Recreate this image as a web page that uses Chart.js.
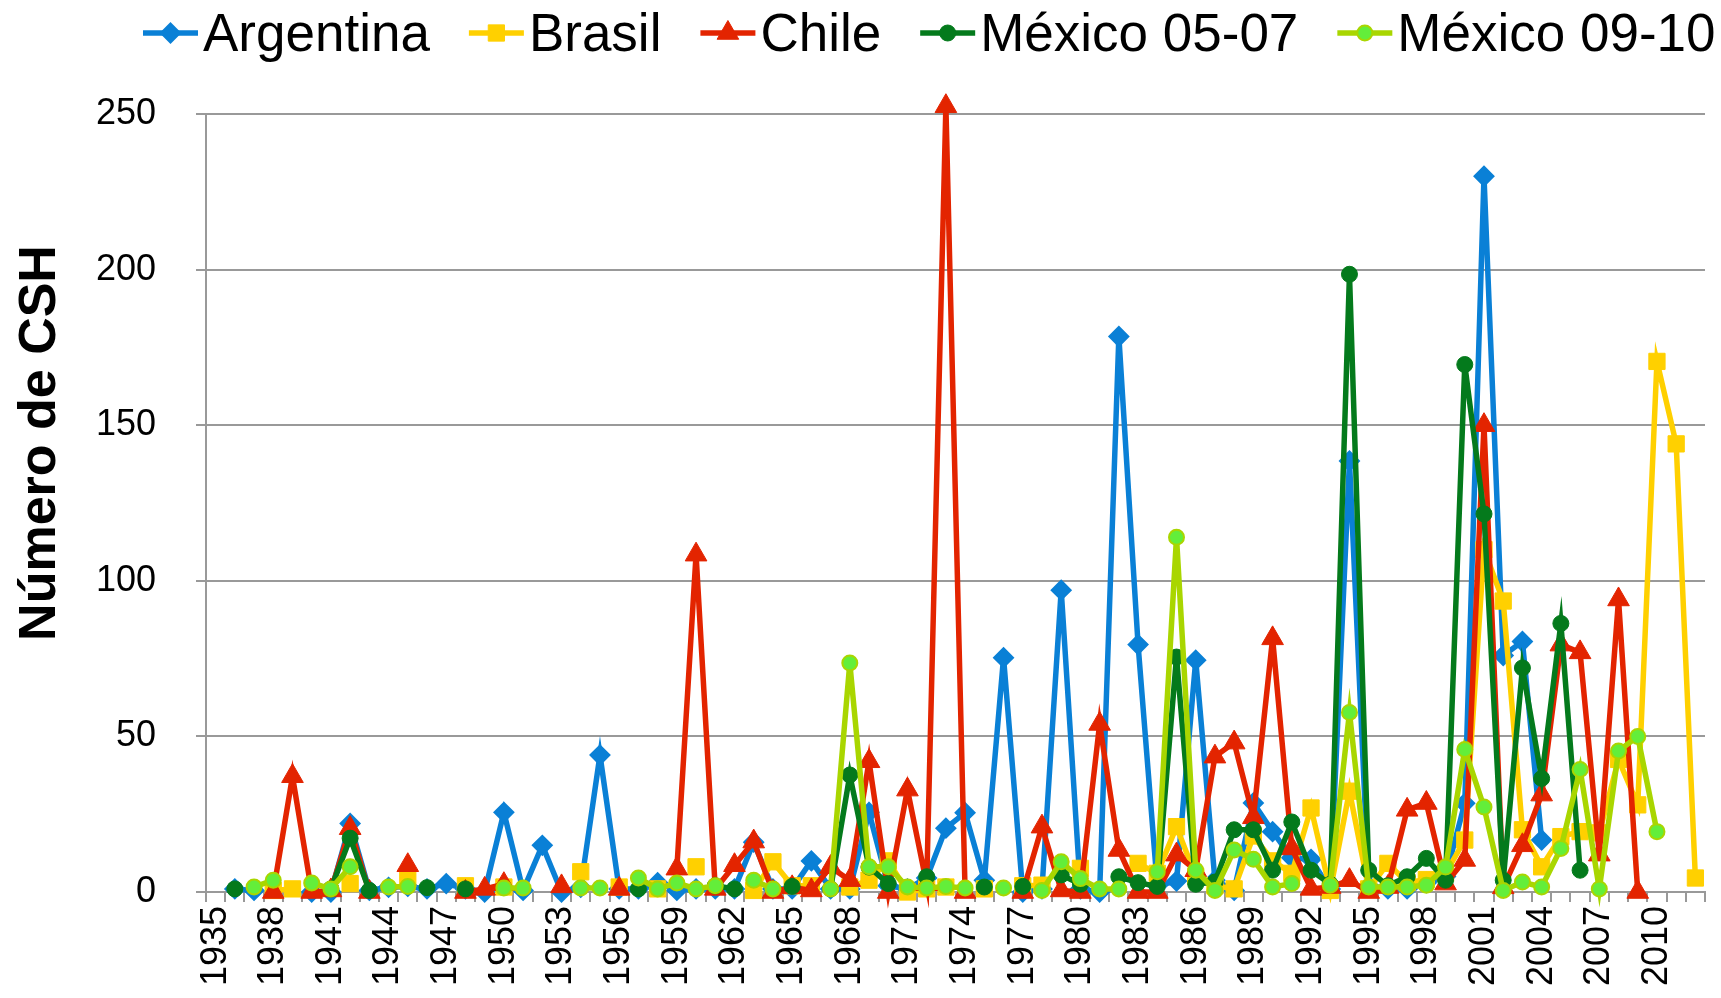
<!DOCTYPE html>
<html>
<head>
<meta charset="utf-8">
<script src="https://cdn.jsdelivr.net/npm/chart.js@4.4.1/dist/chart.umd.min.js"></script>
<style>
html,body{margin:0;padding:0;background:#fff;}
#wrap{width:1721px;height:998px;position:relative;}
</style>
</head>
<body>
<div id="wrap"><canvas id="c" width="1721" height="998"></canvas></div>
<script>
const years = ['1935','1936','1937','1938','1939','1940','1941','1942','1943','1944','1945','1946','1947','1948','1949',
'1950','1951','1952','1953','1954','1955','1956','1957','1958','1959','1960','1961','1962','1963','1964',
'1965','1966','1967','1968','1969','1970','1971','1972','1973','1974','1975','1976','1977','1978','1979',
'1980','1981','1982','1983','1984','1985','1986','1987','1988','1989','1990','1991','1992','1993','1994',
'1995','1996','1997','1998','1999','2000','2001','2002','2003','2004','2005','2006','2007','2008','2009',
'2010','2011','2012'];

const yTicks = [0, 50, 100, 150, 200, 250];

// 1935 ... 2012
const argentina = [null,1,0.5,null,null,0,0,22,0.5,1.5,1.8,1,2.7,1,0,
25.6,0.5,15,0,1.5,44,1,1,3,0.5,1,1,1,16,1,
1,10,1,1,25.6,2,1,4.5,20.5,25.5,3.8,75.3,0,1,97,
1,0,178.5,79.5,2,3.5,74.5,3.8,0.5,28.6,19.4,11,10.5,1,138.5,
2,1,1,3,5,28.5,230,76,80.5,16.7,null,null,null,null,null,
null,null,null];

const brasil = [null,null,null,0.5,1,null,null,2.7,null,null,4.3,null,null,2,null,
1.6,null,null,null,6.5,null,1.6,null,1,null,8.1,null,null,0.5,9.7,
2,2,null,1.6,3.8,10,0,1,1.6,null,1,null,2,2.2,null,
7.6,null,null,9.2,6,21,5,2,1,18,10,6,27,0.5,32.4,
1,9.2,3,4,6,16.7,110,93.5,20,8.1,17.8,19.4,19,42.6,28,
170.5,144,4.5];

const chile = [null,null,null,0,37.2,0,0.5,20.5,0,null,8.6,null,null,0,1,
2.5,null,null,1.8,null,null,1,null,null,7.5,108.4,1,8.6,16.2,0,
1.5,0.5,8,3.8,42,0,32.9,2.5,252.5,0,null,null,0,21,0.5,
0,54,13.5,0,0,12,7,43.5,48,24,81.5,14,1,1.6,3.8,
0,1.6,26.4,28.6,2.7,10.3,150,1.5,15,31.3,79.5,77,12,94,0,
null,null,null];

const mexico0507 = [null,1,null,null,null,null,1,17.3,0.5,null,null,1.4,null,1,null,
null,null,null,null,null,null,null,1,null,null,null,2,1,null,null,
1.8,null,1,37.6,8,2.7,null,4.9,null,null,1.6,null,1.8,null,5.5,
2.5,null,4.9,3,1.8,75.5,2.5,3.2,20,20,7,22.5,7,2.5,198.5,
7,2,4.9,10.8,3.8,169.5,121.5,3.8,72,36.5,86.3,7,null,null,null,
null,null,null];

const mexico0910 = [null,null,1.6,3.8,null,2.9,1,8.1,null,1.6,1.8,null,null,null,null,
1.3,1.3,null,null,1.3,1.3,null,4.5,1,2.9,1,2,null,3.8,1,
null,null,1,73.6,8.1,8.1,1.6,1.3,1.8,1.3,null,1.3,null,0.5,9.7,
4.3,1,1,null,6.5,114,7,0.5,13.5,10.5,1.6,2.7,null,2.2,57.7,
1.6,1.6,1.6,2.2,8,45.8,27.3,0.5,3.2,1.6,14,39.4,1,45.3,50,
19.4,null,null];

const seriesNames = ['Argentina','Brasil','Chile','México 05-07','México 09-10'];
const seriesData = [argentina, brasil, chile, mexico0507, mexico0910];
const lineColors = ['#0A80D6','#FFD000','#E32400','#047A1C','#A9D600'];
const fillColors = ['#0A80D6','#FFD000','#E32400','#047A1C','#63EE3A'];
const pointStyles = ['rectRot','rect','triangle','circle','circle'];
const pointRadii = [9.5, 11.5, 12.5, 8, 7.5];
const pointBorders = [2, 1, 1, 1, 2];

const FONT = "'Liberation Sans', Arial, sans-serif";
Chart.defaults.font.family = FONT;
Chart.defaults.color = '#000';

const datasets = seriesData.map((d, i) => ({
  label: seriesNames[i],
  data: d,
  borderColor: lineColors[i],
  backgroundColor: fillColors[i],
  pointBackgroundColor: fillColors[i],
  pointBorderColor: lineColors[i],
  pointBorderWidth: pointBorders[i],
  pointStyle: pointStyles[i],
  pointRadius: pointRadii[i],
  borderWidth: 5.5,
  tension: 0,
  spanGaps: false,
  clip: false,
  order: seriesData.length - i
}));

function drawMarker(ctx, i, x, y) {
  ctx.save();
  ctx.fillStyle = fillColors[i];
  ctx.strokeStyle = lineColors[i];
  ctx.lineWidth = pointBorders[i];
  const r = pointRadii[i];
  ctx.beginPath();
  const s = pointStyles[i];
  if (s === 'circle') {
    ctx.arc(x, y, r, 0, Math.PI * 2);
  } else if (s === 'rect') {
    const h = r * Math.SQRT1_2;
    ctx.rect(x - h, y - h, 2 * h, 2 * h);
  } else if (s === 'rectRot') {
    ctx.moveTo(x, y - r); ctx.lineTo(x + r, y); ctx.lineTo(x, y + r); ctx.lineTo(x - r, y); ctx.closePath();
  } else if (s === 'triangle') {
    ctx.moveTo(x, y - r);
    ctx.lineTo(x + r * Math.sin(2 * Math.PI / 3), y - r * Math.cos(2 * Math.PI / 3));
    ctx.lineTo(x + r * Math.sin(4 * Math.PI / 3), y - r * Math.cos(4 * Math.PI / 3));
    ctx.closePath();
  }
  ctx.fill();
  ctx.stroke();
  ctx.restore();
}

const customDecor = {
  id: 'customDecor',
  afterDraw(chart) {
    const ctx = chart.ctx;
    // legend
    ctx.save();
    ctx.font = '53px ' + FONT;
    ctx.textBaseline = 'alphabetic';
    ctx.textAlign = 'left';
    let x = 143;
    const ly = 33;
    seriesNames.forEach((name, i) => {
      ctx.strokeStyle = lineColors[i];
      ctx.lineWidth = 5.5;
      ctx.beginPath();
      ctx.moveTo(x, ly); ctx.lineTo(x + 55, ly);
      ctx.stroke();
      drawMarker(ctx, i, x + 27.5, ly);
      ctx.fillStyle = '#000';
      ctx.fillText(name, x + 60, 51);
      x += 60 + ctx.measureText(name).width + 39;
    });
    ctx.restore();
    // y axis title
    ctx.save();
    ctx.font = 'bold 52px ' + FONT;
    ctx.fillStyle = '#000';
    ctx.translate(55, 443);
    ctx.rotate(-Math.PI / 2);
    ctx.textAlign = 'center';
    ctx.textBaseline = 'alphabetic';
    ctx.fillText('Número de CSH', 0, 0);
    ctx.restore();
  }
};

new Chart(document.getElementById('c'), {
  type: 'line',
  data: { labels: years, datasets },
  options: {
    responsive: false,
    animation: false,
    events: [],
    devicePixelRatio: 1,
    layout: { padding: { left: 0, top: 114, right: 16, bottom: 0 } },
    plugins: { legend: { display: false }, tooltip: { enabled: false }, title: { display: false } },
    scales: {
      x: {
        offset: true,
        grid: { offset: true, drawOnChartArea: false, drawTicks: true, tickLength: 10, color: '#999', lineWidth: 2 },
        border: { color: '#999', width: 2 },
        ticks: {
          autoSkip: false, maxRotation: 90, minRotation: 90,
          font: { size: 36 }, color: '#000', padding: 4,
          callback: (v, i) => (i % 3 === 0 ? years[i] : '')
        },
        afterFit(scale) { scale.height = 106; scale.paddingLeft = 0; scale.paddingRight = 0; }
      },
      y: {
        min: yTicks[0], max: yTicks[yTicks.length - 1],
        afterBuildTicks(scale) { scale.ticks = yTicks.map(v => ({ value: v })); },
        ticks: { font: { size: 36 }, color: '#000', padding: 40 },
        grid: { color: '#999', lineWidth: 2, tickLength: 10, drawTicks: true },
        border: { color: '#999', width: 2 },
        afterFit(scale) { scale.width = 206; scale.paddingTop = 0; scale.paddingBottom = 0; }
      }
    }
  },
  plugins: [customDecor]
});
</script>
</body>
</html>
